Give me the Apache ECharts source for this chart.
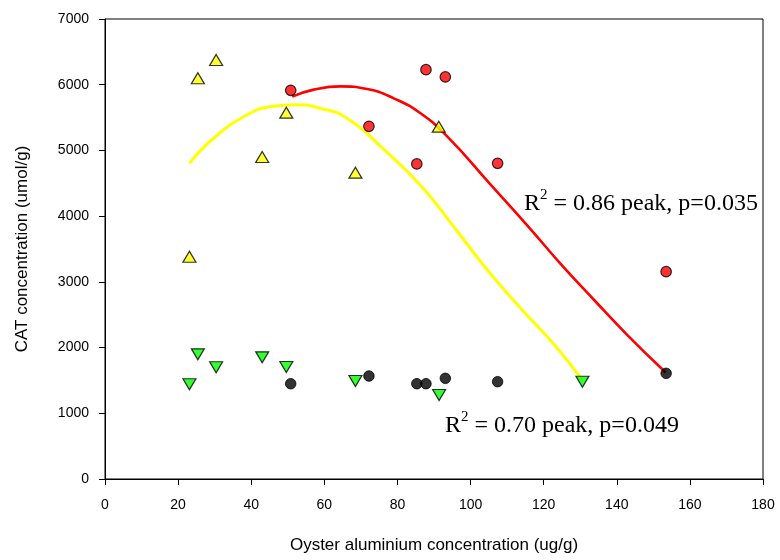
<!DOCTYPE html>
<html>
<head>
<meta charset="utf-8">
<title>CAT concentration vs oyster aluminium</title>
<script src="https://cdn.jsdelivr.net/npm/echarts@6/dist/echarts.min.js"></script>
<style>
  html, body { margin: 0; padding: 0; background: #fff; }
  #chart { width: 780px; height: 560px; }
</style>
</head>
<body>
<div id="chart"></div>
<script>
// Oyster aluminium (ug/g) for the circle group, with CAT in two tissues
const circleAl = [50.8, 72.2, 85.3, 87.8, 93.1, 107.4, 153.5];
const redCat = [5915, 5367, 4794, 6229, 6118, 4804, 3155];
const blackCat = [1450, 1567, 1450, 1450, 1532, 1481, 1608];

// Oyster aluminium (ug/g) for the triangle group
const triUpAl = [23.1, 25.4, 30.4, 43.0, 49.6, 68.5, 91.3];
const yellowCat = [3383, 6098, 6376, 4900, 5575, 4662, 5362];
const triDownAl = [23.1, 25.4, 30.4, 43.0, 49.6, 68.5, 91.4, 130.6];
const greenCat = [1441, 1897, 1700, 1851, 1705, 1491, 1278, 1481];

// Fitted peak curves, sampled along the drawn lines
const redFitAl = [51.2, 57.1, 64.4, 71.7, 79.0, 86.3, 93.6, 105.0, 115.5, 124.7, 133.8, 142.9, 153.4];
const redFitCat = [5818, 5925, 5975, 5935, 5793, 5565, 5215, 4510, 3860, 3270, 2724, 2190, 1620];
const yellowFitAl = [23.1, 29.7, 38.8, 45.5, 52.3, 59.0, 66.2, 76.2, 86.3, 95.4, 104.6, 113.7, 122.8, 130.4];
const yellowFitCat = [4804, 5185, 5539, 5668, 5695, 5640, 5489, 5020, 4470, 3839, 3180, 2600, 2050, 1520];

// Axis ticks
const xTicks = { min: 0, max: 180, interval: 20 };
const yTicks = { min: 0, max: 7000, interval: 1000 };

const zip = (xs, ys) => xs.map((x, i) => [x, ys[i]]);

const chart = echarts.init(document.getElementById('chart'), null, { renderer: 'canvas' });

const axisFont = { fontFamily: 'Liberation Sans, Arial, sans-serif', color: '#000' };
const serif = 'Liberation Serif, Times New Roman, serif';
const fitLabelRich = {
  a: { fontFamily: serif, fontSize: 24, fill: '#000', lineHeight: 28, verticalAlign: 'bottom' },
  s: { fontFamily: serif, fontSize: 15, fill: '#000', lineHeight: 28, verticalAlign: 'top' }
};

const option = {
  animation: false,
  backgroundColor: '#fff',
  grid: {
    left: 105, right: 17, top: 19, bottom: 81,
    show: true, borderColor: '#000', borderWidth: 1, backgroundColor: 'transparent'
  },
  xAxis: {
    type: 'value',
    min: xTicks.min, max: xTicks.max, interval: xTicks.interval,
    name: 'Oyster aluminium concentration (ug/g)',
    nameLocation: 'middle', nameGap: 58,
    nameTextStyle: Object.assign({ fontSize: 17 }, axisFont),
    axisLine: { show: true, onZero: false, lineStyle: { color: '#000', width: 1 } },
    axisTick: { show: true, inside: false, length: 6, lineStyle: { color: '#000' } },
    axisLabel: Object.assign({ fontSize: 14, margin: 19, formatter: v => String(v) }, axisFont),
    splitLine: { show: false }
  },
  yAxis: {
    type: 'value',
    min: yTicks.min, max: yTicks.max, interval: yTicks.interval,
    name: 'CAT concentration (umol/g)',
    nameLocation: 'middle', nameGap: 74, nameRotate: 90,
    nameTextStyle: Object.assign({ fontSize: 17 }, axisFont),
    axisLine: { show: true, onZero: false, lineStyle: { color: '#000', width: 1 } },
    axisTick: { show: true, inside: false, length: 6, lineStyle: { color: '#000' } },
    axisLabel: Object.assign({ fontSize: 14, margin: 16, formatter: v => String(v) }, axisFont),
    splitLine: { show: false }
  },
  series: [
    {
      name: 'yellow fit', type: 'line', smooth: 0.5, symbol: 'none',
      data: zip(yellowFitAl, yellowFitCat),
      lineStyle: { color: '#ffff00', width: 3 }, z: 2
    },
    {
      name: 'red fit', type: 'line', smooth: 0.5, symbol: 'none',
      data: zip(redFitAl, redFitCat),
      lineStyle: { color: '#ff0000', width: 2.6 }, z: 2
    },
    {
      name: 'yellow', type: 'scatter', symbol: 'triangle', symbolSize: [13, 11],
      data: zip(triUpAl, yellowCat),
      itemStyle: { color: '#ffff00', borderColor: '#000', borderWidth: 1.2 }, z: 3
    },
    {
      name: 'green', type: 'scatter', symbol: 'triangle', symbolRotate: 180, symbolSize: [13, 11],
      data: zip(triDownAl, greenCat),
      itemStyle: { color: '#00ff00', borderColor: '#000', borderWidth: 1.2 }, z: 3
    },
    {
      name: 'red', type: 'scatter', symbol: 'circle', symbolSize: 10.5,
      data: zip(circleAl, redCat),
      itemStyle: { color: '#ff0000', borderColor: '#000', borderWidth: 1.2 }, z: 4
    },
    {
      name: 'black', type: 'scatter', symbol: 'circle', symbolSize: 10.5,
      data: zip(circleAl, blackCat),
      itemStyle: { color: '#000', borderColor: '#000', borderWidth: 1 }, z: 4
    }
  ],
  graphic: [
    {
      type: 'text', left: 524, top: 188, z: 10,
      style: { text: '{a|R}{s|2}{a| = 0.86 peak, p=0.035}', rich: fitLabelRich }
    },
    {
      type: 'text', left: 445, top: 410, z: 10,
      style: { text: '{a|R}{s|2}{a| = 0.70 peak, p=0.049}', rich: fitLabelRich }
    }
  ]
};

chart.setOption(option);
</script>
</body>
</html>
